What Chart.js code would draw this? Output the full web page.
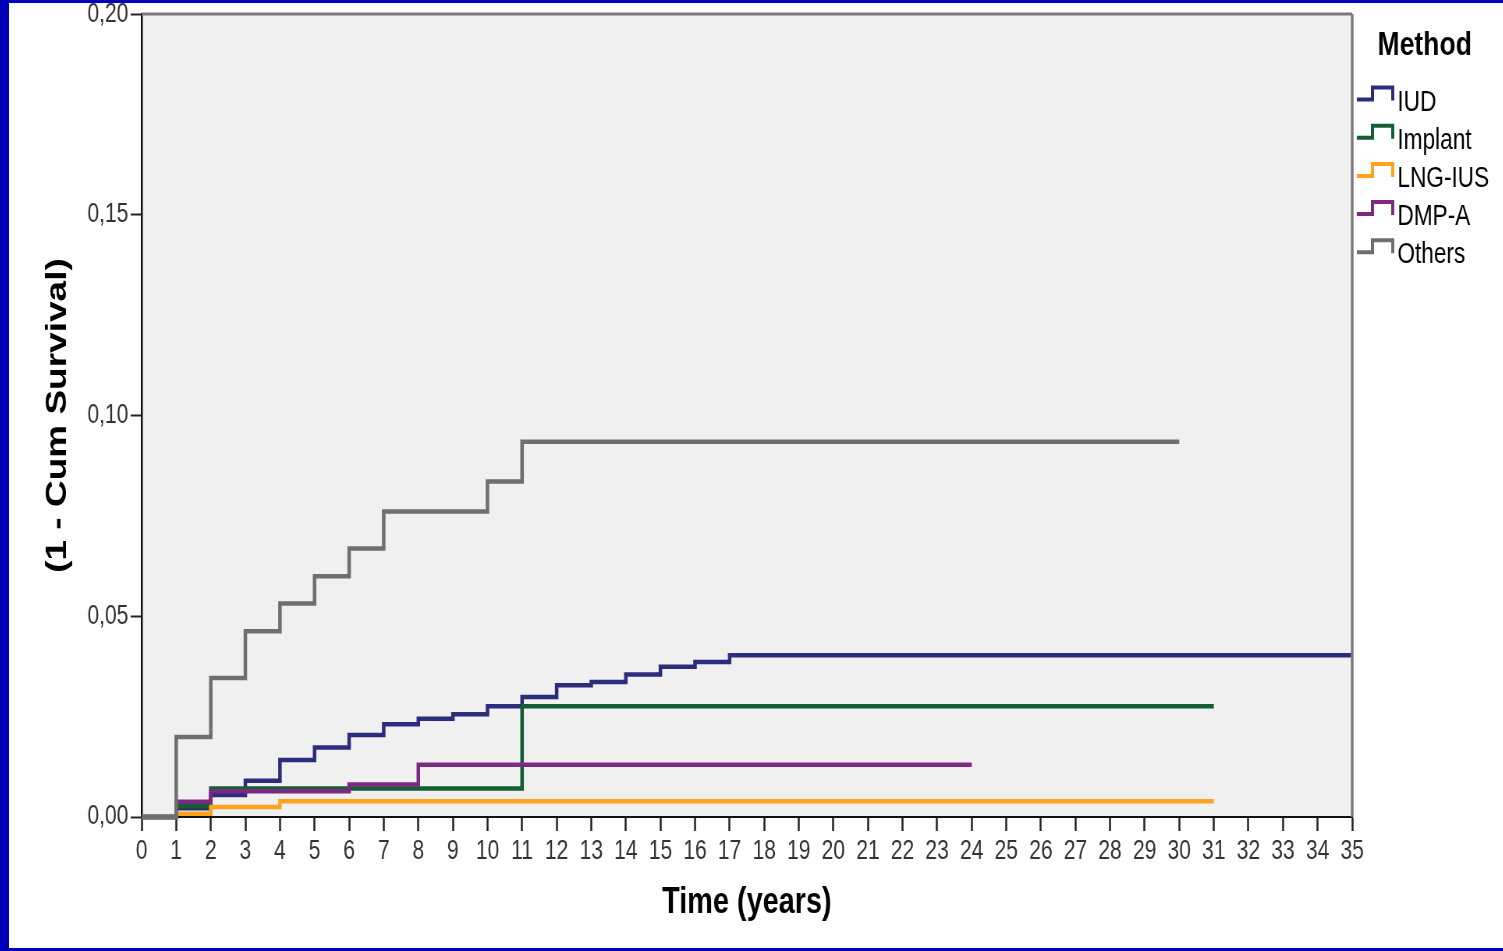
<!DOCTYPE html>
<html>
<head>
<meta charset="utf-8">
<script src="https://cdn.jsdelivr.net/npm/chart.js@4/dist/chart.umd.min.js"></script>
<style>
  html, body { margin: 0; padding: 0; }
  body { width: 1503px; height: 951px; background: #0000b8; overflow: hidden; position: relative; }
  #frame { position: absolute; left: 9px; top: 3px; width: 1494px; height: 945px; background: #fff; overflow: hidden; }
  #chart { position: absolute; left: 0; top: 0; transform: scaleX(0.78); transform-origin: 0 0; }
</style>
</head>
<body>
<div id="frame"><canvas id="chart" width="1916" height="945"></canvas></div>
<script>
// Données (1 - survie cumulée)
const seriesNames = ['IUD', 'Implant', 'LNG-IUS', 'DMP-A', 'Others'];
const seriesColors = ['#2b2c7c', '#135e33', '#ffa31f', '#7d2882', '#6f6f6f'];

const iudTimes = [0, 1, 2, 3, 4, 5, 6, 7, 8, 9, 10, 11, 12, 13, 14, 15, 16, 17, 35];
const iudValues = [0, 0.0022, 0.0055, 0.0090, 0.0142, 0.0173, 0.0204, 0.0231, 0.0245, 0.0256,
                   0.0276, 0.0299, 0.0328, 0.0336, 0.0355, 0.0374, 0.0386, 0.0403, 0.0403];

const implantTimes = [0, 1, 2, 11, 31];
const implantValues = [0, 0.0027, 0.0071, 0.0276, 0.0276];

const lngTimes = [0, 1, 2, 4, 31];
const lngValues = [0, 0.0008, 0.0025, 0.0039, 0.0039];

const dmpTimes = [0, 1, 2, 6, 8, 24];
const dmpValues = [0, 0.0038, 0.0064, 0.0081, 0.0130, 0.0130];

const othersTimes = [0, 1, 2, 3, 4, 5, 6, 7, 10, 11, 30];
const othersValues = [0, 0.0199, 0.0346, 0.0463, 0.0532, 0.0600, 0.0669, 0.0761, 0.0836, 0.0935, 0.0935];

const xTicks = { min: 0, max: 35, step: 1 };
const yTicks = { min: 0, max: 0.20, step: 0.05 };

const FONT = "'Liberation Sans', Arial, sans-serif";

function toPoints(times, values) {
  return times.map((t, i) => ({ x: t, y: values[i] }));
}

const allSeries = [
  [iudTimes, iudValues],
  [implantTimes, implantValues],
  [lngTimes, lngValues],
  [dmpTimes, dmpValues],
  [othersTimes, othersValues]
];

const datasets = allSeries.map((s, i) => ({
  label: seriesNames[i],
  data: toPoints(s[0], s[1]),
  borderColor: seriesColors[i],
  borderWidth: 4.5,
  pointRadius: 0,
  stepped: true,
  fill: false,
  clip: false,
  order: seriesNames.length - 1 - i
}));

// Fond gris et cadre de la zone de tracé
const plotFrame = {
  id: 'plotFrame',
  beforeDraw(chart) {
    const { ctx, chartArea: a } = chart;
    ctx.save();
    ctx.fillStyle = '#f0f0f0';
    ctx.fillRect(a.left, a.top, a.right - a.left, a.bottom - a.top);
    ctx.restore();
  },
  afterDatasetsDraw(chart) {
    const { ctx, chartArea: a } = chart;
    ctx.save();
    ctx.strokeStyle = '#7a7a7a';
    ctx.lineWidth = 3;
    ctx.beginPath();
    ctx.moveTo(a.left, a.top);
    ctx.lineTo(a.right, a.top);
    ctx.stroke();
    ctx.lineWidth = 3.5;
    ctx.beginPath();
    ctx.moveTo(a.right, a.top);
    ctx.lineTo(a.right, a.bottom);
    ctx.stroke();
    ctx.restore();
  }
};

// Légende façon SPSS
const stepLegend = {
  id: 'stepLegend',
  afterDraw(chart) {
    const ctx = chart.ctx;
    ctx.save();
    ctx.fillStyle = '#000';
    ctx.textAlign = 'center';
    ctx.textBaseline = 'middle';
    ctx.font = 'bold 34px ' + FONT;
    ctx.fillText('Method', 1815, 43);

    ctx.font = '29px ' + FONT;
    ctx.textAlign = 'left';
    seriesNames.forEach((name, i) => {
      const yc = 98.5 + 38.2 * i;
      ctx.strokeStyle = seriesColors[i];
      ctx.lineWidth = 4;
      ctx.beginPath();
      ctx.moveTo(1728, yc - 2);
      ctx.lineTo(1748, yc - 2);
      ctx.lineTo(1748, yc - 14);
      ctx.lineTo(1774, yc - 14);
      ctx.lineTo(1774, yc - 1);
      ctx.stroke();
      ctx.fillStyle = '#000';
      ctx.fillText(name, 1780, yc + 1);
    });
    ctx.restore();
  }
};

new Chart(document.getElementById('chart'), {
  type: 'line',
  data: { datasets },
  options: {
    responsive: false,
    animation: false,
    devicePixelRatio: 1,
    layout: { padding: { left: 0, right: 194, top: 10, bottom: 0 } },
    plugins: {
      legend: { display: false },
      tooltip: { enabled: false }
    },
    scales: {
      x: {
        type: 'linear',
        min: xTicks.min,
        max: xTicks.max,
        afterFit(scale) { scale.height = 131; },
        ticks: {
          stepSize: xTicks.step,
          autoSkip: false,
          maxRotation: 0,
          padding: 4,
          color: '#333',
          font: { family: FONT, size: 27 }
        },
        grid: { drawOnChartArea: false, drawTicks: true, tickLength: 14, tickColor: '#222', tickWidth: 2.5 },
        border: { color: '#111', width: 2 },
        title: {
          display: true,
          text: 'Time (years)',
          color: '#000',
          font: { family: FONT, size: 37, weight: 'bold' },
          padding: { top: 0, bottom: 23 }
        }
      },
      y: {
        min: yTicks.min,
        max: yTicks.max,
        afterFit(scale) { scale.width = 170; },
        ticks: {
          stepSize: yTicks.step,
          padding: 3,
          color: '#333',
          font: { family: FONT, size: 27, lineHeight: 0.6 },
          callback: v => v.toFixed(2).replace('.', ',')
        },
        grid: { drawOnChartArea: false, drawTicks: true, tickLength: 14, tickColor: '#222', tickWidth: 2 },
        border: { color: '#111', width: 2.5 },
        title: {
          display: true,
          text: '(1 - Cum Survival)',
          color: '#000',
          font: { family: FONT, size: 37, weight: 'bold' },
          padding: { top: 41, bottom: 0 }
        }
      }
    }
  },
  plugins: [plotFrame, stepLegend]
});
</script>
</body>
</html>
